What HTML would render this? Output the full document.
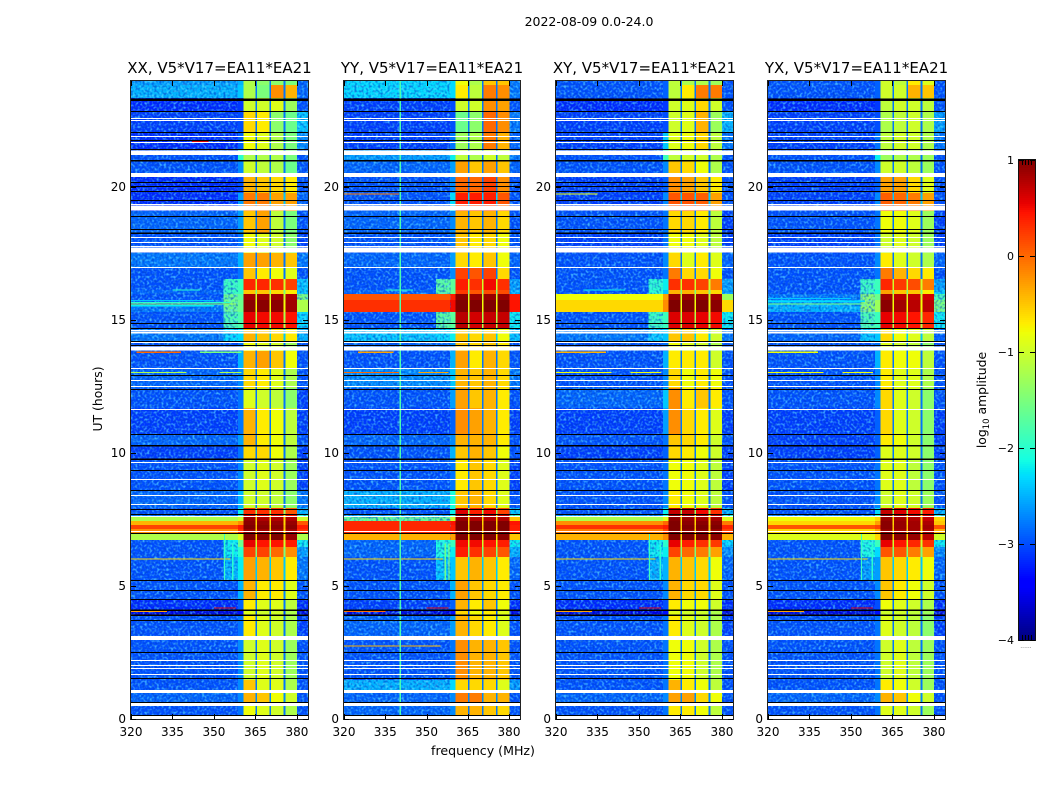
<!DOCTYPE html>
<html lang="en">
<head>
<meta charset="utf-8">
<title>2022-08-09 0.0-24.0</title>
<style>
html,body{margin:0;padding:0;background:#fff;width:1050px;height:800px;overflow:hidden}
svg{display:block}
text{font-family:"DejaVu Sans","Liberation Sans",sans-serif;fill:#000}
</style>
</head>
<body>
<svg id="fig" xmlns="http://www.w3.org/2000/svg" width="1050" height="800" viewBox="0 0 1050 800">
  <defs>
    <filter id="speckle" x="0" y="0" width="100%" height="100%">
      <feTurbulence type="fractalNoise" baseFrequency="0.42" numOctaves="1" seed="7"/>
      <feColorMatrix type="matrix" values="0 0 0 0 0.1  0 0 0 0 0.7  0 0 0 0 1  3.4 0 0 0 -1.55"/>
    </filter>
    <filter id="speckle-dark" x="0" y="0" width="100%" height="100%">
      <feTurbulence type="fractalNoise" baseFrequency="0.42" numOctaves="1" seed="23"/>
      <feColorMatrix type="matrix" values="0 0 0 0 0  0 0 0 0 0.05  0 0 0 0 0.6  3.4 0 0 0 -1.55"/>
    </filter>
  </defs>
  <text x="589" y="26" font-size="12.5" text-anchor="middle">2022-08-09 0.0-24.0</text>
  <text x="0" y="0" font-size="12.4" text-anchor="middle" transform="translate(102,399) rotate(-90)">UT (hours)</text>
  <text x="483" y="755" font-size="12.6" text-anchor="middle">frequency (MHz)</text>
  <text x="0" y="0" font-size="12.4" text-anchor="middle" transform="translate(986,400) rotate(-90)">log<tspan font-size="8.5" dy="3">10</tspan><tspan dy="-3"> amplitude</tspan></text>
  <g id="panels"></g>
  <g id="colorbar"></g>
</svg>
<script>
// Axis ticks
const freqTicks = [320, 335, 350, 365, 380];
const utTicks = [0, 5, 10, 15, 20];
const colorbarTicks = [1, 0, -1, -2, -3, -4];
const panelTitles = ['XX, V5*V17=EA11*EA21', 'YY, V5*V17=EA11*EA21', 'XY, V5*V17=EA11*EA21', 'YX, V5*V17=EA11*EA21'];

// Frequency column edges in MHz
const freqEdges = [320, 358.6, 360.6, 365.0, 365.6, 370.1, 370.7, 375.2, 375.8, 380.1, 384];
// UT row edges in hours (top to bottom)
const utEdges = [24, 23.85, 23.36, 22.87, 22.08, 21.41, 21.0, 20.39, 19.79, 19.36, 19.11, 18.28, 17.53, 17.01, 16.55, 16.14, 15.99, 15.76, 15.31, 14.67, 14.18, 13.85, 13.21, 12.45, 11.70, 10.72, 10.27, 9.74, 8.62, 7.94, 7.71, 7.60, 7.45, 7.30, 7.15, 7.00, 6.73, 6.47, 6.09, 5.23, 4.48, 4.10, 3.88, 2.97, 1.47, 0.98, 0.49, 0];

// log10 amplitude of the gaps between spectral windows, one per UT row
const gapLevels = [-2.8,-2.8,-2.8,-2.8,-2.8,-2.8,-2.8,-2.8,-2.4,-2.8,-2.8,-2.8,-2.8,-2.8,-1,-1.5,-1,-.8,-1.2,-2.4,-2.8,-2.8,-2.8,-2.8,-2.8,-2.8,-2.8,-2.8,-2.8,-1.4,-.8,-.6,-.6,-.5,-.6,-.6,-1,-1.5,-2.4,-2.7,-2.8,-3,-2.8,-2.8,-2.8,-2.7,-2.8];

// log10 amplitude per UT row: [below-band, shoulder, window1, window2, window3, window4, above-band]
const levelsXX = [
[-2.6,-2.5,-1.2,-1.4,-1.4,-1.5,-2.9],[-2.5,-2.4,-1.2,-1.5,-.2,-.4,-2.9],[-3.2,-3.1,-1,-1,-.9,-1.3,-3],[-3.1,-3,-.6,-.7,-1.4,-1.6,-2.4],
[-3.2,-2.9,-.8,-.9,-1.2,-1.5,-2.7],[-3,-2,-1.2,-1.2,-1.2,-1.5,-3],[-3,-2.7,-1,-1.1,-1.2,-1.6,-3],[-3.2,-3,-.4,-.5,-.6,-.7,-3],
[-3.2,-2.6,-.1,-.1,-.3,-.3,-2.9],[-3.2,-2.6,-.1,-.1,-.3,-.3,-2.9],[-2.9,-2.6,-.5,-.3,-1.1,-1.5,-3],[-3,-2.8,-.8,-.9,-1,-1.4,-3.1],
[-2.8,-2.5,-.3,-.3,-.4,-.5,-2.8],[-3,-2.8,-.5,-.7,-.8,-.9,-3],[-3,-1.9,.35,.35,.3,.2,-2.4],[-2.9,-1.9,-.5,-.5,-.6,-.7,-2.4],
[-3,-1.7,.85,.85,.85,.8,-1.5],[-2.8,-1.6,.95,.95,.95,.85,-1.2],[-3,-1.8,.55,.5,.5,.45,-2.3],[-2.8,-2.3,-.4,-.5,-.6,-.7,-2.5],
[-3,-2.8,-.8,-.9,-1,-1.3,-3],[-3,-2.5,-.4,-.3,-.5,-.8,-3],[-2.9,-2.7,-.6,-.7,-.9,-1.2,-3],[-3,-2.8,-.9,-1,-1.1,-1.4,-3.1],
[-3.1,-2.8,-.4,-.7,-.8,-1.1,-3.1],[-2.9,-2.6,-.4,-.7,-.8,-1.1,-3],[-3.1,-2.8,-.6,-.6,-.8,-1.2,-3.1],[-3,-2.7,-1,-.9,-1,-1.3,-3.1],
[-2.9,-2.5,-1,-1,-1.1,-1.4,-2.8],[-3,-2.2,.3,.3,.3,.1,-2.5],[-2.8,-2,.6,.5,.5,.45,-2],[-1.2,-1,.9,.8,.8,.8,-1],
[-.4,-.2,.95,.9,.9,.9,.1],[.2,.4,1,.95,.95,.95,.4],[-.2,.3,.9,.85,.85,.85,.3],[-1.2,-.9,1,.95,1,.9,-1.2],
[-3,-1.6,.55,.45,.45,.4,-2.2],[-3,-2,.2,.2,0,-.2,-2.6],[-3,-2.2,-.3,-.4,-.5,-.7,-2.8],[-3,-2.5,-.4,-.7,-.7,-.9,-3],
[-3.2,-2.9,-.7,-.9,-.9,-1.1,-3.2],[-3.6,-3.3,-.9,-1,-1,-1.2,-3.6],[-3,-2.8,-.7,-.9,-1,-1.2,-3.1],[-3,-2.7,-1,-.9,-1,-1.3,-3],
[-3,-2.7,-.5,-.9,-.9,-1.2,-3],[-2.9,-2.7,-.4,-.5,-.8,-1,-3],[-3,-2.8,-.8,-.9,-1,-1.2,-3]
];
const levelsYY = [
[-2.3,-2.3,-.8,-1.2,-.5,-.5,-2.8],[-2.3,-2.3,-.7,-1.1,-.1,-.2,-2.8],[-3.1,-3,-1,-1,-.2,-.3,-3],[-3.1,-3,-1.6,-1.4,0,-.2,-2.8],
[-3.1,-2.8,-1.3,-1.2,-.1,-.4,-2.9],[-2.6,-2.2,-1.1,-1.2,-1,-1.1,-2.8],[-2.9,-2.6,-.3,-.5,-.3,-.5,-2.9],[-3,-2.7,0,0,.2,-.2,-3],
[-3,-2.3,.4,.4,.4,.1,-3],[-3,-2.3,.2,.2,.2,0,-3],[-2.9,-2.7,-.4,-.5,-.4,-.6,-3],[-3,-2.8,-.5,-.7,-.6,-.8,-3],
[-2.9,-2.6,-.6,-.7,-.5,-.8,-2.9],[-3,-2.7,.2,.1,.2,-.6,-3],[-3,-1.7,.4,.3,.5,.3,-2.6],[-2.9,-1.6,.25,.1,.15,.15,-2.5],
[.1,.4,.95,.9,.9,.9,.4],[.3,.5,1,1,1,1,.45],[-3,-1.7,.75,.65,.7,.7,-2.2],[-2.4,-2.2,-.5,-.6,-.5,-.8,-2.4],
[-2.9,-2.7,-.5,-.6,-.5,-.7,-3],[-3,-2.5,-.3,-.7,-.4,-.6,-3],[-2.7,-2.4,-.4,-.5,-.4,-.6,-2.8],[-3,-2.6,-.3,-.5,-.4,-.7,-3],
[-3.1,-2.9,-.2,-.3,-.4,-.7,-3.1],[-2.9,-2.7,-.4,-.4,-.4,-.7,-3],[-3,-2.5,-.5,-.4,-.5,-.8,-3],[-3,-2.8,-.7,-.5,-.6,-.9,-3.1],
[-2.5,-2.1,-.5,-.4,-.6,-.9,-3],[-3,-2.2,.6,.4,.5,.2,-2.4],[-2.6,-2,.9,.8,.8,.7,-1.8],[-1.6,-1,.9,.8,.8,.8,-.5],
[.35,.45,1,1,1,1,.45],[.35,.4,1,1,1,1,.4],[.35,.4,1,1,1,1,.4],[-.4,-.3,1,1,1,.95,-.5],
[-2.9,-1.9,.5,.5,.45,.4,-2.2],[-2.9,-2.2,.4,.3,.2,.1,-2.5],[-3,-2.4,-.5,-.4,-.5,-.7,-2.9],[-3,-2.5,-.3,-.5,-.6,-.7,-3],
[-3.1,-2.9,-.4,-.7,-.5,-.8,-3.2],[-3.6,-3.3,-.6,-.8,-.7,-.9,-3.6],[-2.9,-2.6,-.4,-.6,-.7,-.9,-3],[-3,-2.8,-.2,-.4,-.4,-.5,-3],
[-2.5,-2.3,-.6,-.6,-.6,-.9,-2.6],[-2.9,-2.7,-.1,-.1,-.4,-.4,-3],[-2.9,-2.7,-.4,-.4,-.5,-.6,-3]
];
const levelsXY = [
[-3,-2.9,-1.1,-1.2,-1.2,-1.3,-3],[-3,-2.9,-1.1,-.7,-.1,-.1,-3],[-3.2,-3.1,-1,-.9,-.6,-1,-3],[-3.1,-3,-1,-.9,-.4,-1.3,-2.5],
[-3.1,-2.4,-.9,-.8,-.6,-1.1,-2.8],[-3,-1.9,-1.1,-1,-1,-1.2,-3],[-3,-2.7,-.5,-.6,-.8,-1.2,-3],[-3.1,-2.9,-.2,-.3,-.5,-.7,-3],
[-3.1,-2.7,.1,.1,.05,-.3,-3],[-3.1,-2.7,.1,.1,.05,-.3,-3],[-3,-2.8,-.6,-.6,-.7,-1.1,-3.1],[-3.1,-2.8,-.8,-.8,-.9,-1.1,-3.1],
[-3,-2.7,-.6,-.9,-.7,-.9,-2.9],[-3,-2.8,-.1,-.6,-.6,-.8,-3],[-3,-2.2,.3,.3,.2,-.1,-2.6],[-3,-2.4,-.4,-.4,-.5,-.6,-2.6],
[-.8,-.3,.9,.9,.9,.85,-1.3],[-.6,-.2,1,1,1,.95,-.6],[-3,-1.9,.6,.6,.55,.5,-2.2],[-2.8,-2.4,-.5,-.5,-.7,-1,-2.8],
[-3,-2.8,-.8,-.9,-1,-1.2,-3],[-3,-2.5,-.7,-.7,-.7,-1,-3],[-3,-2.7,-.6,-.8,-.7,-.8,-3],[-2.9,-2.4,-.2,-.7,-.5,-.7,-3],
[-3.1,-2.6,-.2,-.6,-.7,-.9,-3.1],[-3,-2.8,-.5,-.6,-.7,-1,-3],[-3.1,-2.9,-.6,-.7,-.8,-1,-3.1],[-3,-2.8,-.8,-.8,-.9,-1.1,-3.1],
[-3,-2.7,-.7,-.8,-.9,-1.1,-3],[-3,-2.2,.7,.7,.5,.3,-2.5],[-2.6,-2,.9,.8,.8,.7,-2],[-1.2,-.9,.95,.9,.85,.85,-.9],
[-.2,0,1,.95,.95,.95,-.1],[.3,.4,1,1,1,1,.35],[-.1,.2,1,.95,.95,.9,.2],[-.4,-.2,1,1,1,.95,-.4],
[-3,-2,.55,.4,.3,.25,-2.3],[-3,-2.2,.2,0,-.1,-.3,-2.7],[-3,-2.5,-.4,-.5,-.6,-.8,-2.9],[-3,-2.7,-.4,-.6,-.6,-.9,-3],
[-3.2,-3,-.7,-.8,-.8,-1,-3.2],[-3.6,-3.3,-.9,-1,-1,-1.2,-3.6],[-3,-2.8,-.7,-.9,-1,-1.2,-3.1],[-3,-2.8,-.8,-.8,-1,-1.2,-3],
[-3,-2.8,-.4,-.7,-.8,-1.1,-3],[-2.9,-2.7,-.3,-.3,-.6,-.8,-3],[-3,-2.8,-.7,-.7,-.8,-1.1,-3]
];
const levelsYX = [
[-3,-2.9,-1,-1.1,-.7,-.9,-3],[-3,-2.9,-1,-1,-.4,-.5,-3],[-3.2,-3.1,-1.1,-1,-1,-1.1,-3],[-3.1,-3,-1.2,-1.1,-1,-1.2,-2.6],
[-3.1,-2.8,-1.1,-1,-1,-1.2,-2.8],[-3,-2.2,-1.3,-1.2,-1.2,-1.3,-3],[-3,-2.7,-1,-1,-1.1,-1.3,-3],[-3.1,-2.9,-.3,-.3,-.6,-.9,-3],
[-3.1,-2.7,.05,0,-.1,-.3,-3],[-3.1,-2.7,.05,0,-.1,-.3,-3],[-3,-2.8,-.8,-.8,-.9,-1.3,-3.1],[-3.1,-2.8,-1,-.9,-1,-1.3,-3.1],
[-3,-2.7,-.7,-.9,-1,-1.2,-2.9],[-3,-2.8,-.1,-.4,-.6,-.7,-3],[-3,-1.9,.35,.25,.15,-.1,-2.6],[-3,-2.1,-.3,-.5,-.5,-.7,-2.4],
[-2.8,-1.6,.85,.75,.7,.65,-1.8],[-2.5,-1.3,.95,.85,.75,.75,-1.5],[-3,-1.9,.55,.5,.45,.35,-2.2],[-2.9,-2.4,-.6,-.8,-.9,-1.1,-2.9],
[-3,-2.8,-.9,-1,-1.1,-1.4,-3],[-3,-2.5,-.7,-.8,-.8,-1.1,-3],[-3,-2.7,-.7,-.9,-.9,-1.2,-3],[-3,-2.7,-.6,-.9,-1,-1.4,-3],
[-3.1,-2.9,-.6,-.9,-1,-1.4,-3.1],[-3.1,-2.9,-.7,-.8,-1,-1.4,-3.1],[-3.1,-2.9,-.9,-.9,-1,-1.4,-3.1],[-3,-2.8,-.9,-.9,-1.1,-1.4,-3],
[-3,-2.7,-1,-.9,-1,-1.3,-3],[-3,-2.3,.7,.6,.5,.4,-2.5],[-2.7,-2,.9,.8,.8,.6,-2],[-.8,-.6,.9,.85,.8,.7,-.6],
[-.6,-.3,.95,.9,.85,.8,-.5],[.1,.2,.95,.9,.85,.85,.1],[-.6,-.3,.9,.85,.85,.8,-.4],[-.9,-.6,1,.95,.9,.75,-1],
[-3,-1.9,.55,.45,.35,.3,-2.2],[-3,-2.3,.1,.1,-.1,-.3,-2.7],[-3,-2.6,-.5,-.6,-.7,-.8,-2.9],[-3,-2.7,-.5,-.7,-.8,-1,-3],
[-3.2,-3,-.8,-.9,-1,-1.2,-3.2],[-3.6,-3.3,-1,-1,-1.1,-1.3,-3.6],[-3,-2.8,-.9,-1,-1.1,-1.4,-3.1],[-3,-2.8,-1,-.9,-1.1,-1.3,-3],
[-3,-2.8,-.7,-.8,-1,-1.3,-3],[-2.9,-2.7,-.4,-.5,-.8,-1,-3],[-3,-2.8,-.9,-.9,-1,-1.3,-3]
];

// Out-of-band leakage next to the windows (353.5-358.6 MHz): [utTop, utBottom, level]
const leakageXX = [[16.55,15.99,-1.9],[15.99,15.31,-1.6],[15.31,14.67,-1.8],[14.67,14.18,-2.3],[6.73,6.09,-2.2],[6.09,5.23,-2.5]];
const leakageYY = [[16.55,15.99,-1.7],[15.31,14.67,-1.7],[14.67,14.18,-2.3],[6.73,6.09,-2.1],[6.09,5.23,-2.4]];
const leakageXY = [[16.55,15.99,-2],[15.31,14.67,-1.9],[14.67,14.18,-2.4],[6.73,6.09,-2.2],[6.09,5.23,-2.5]];
const leakageYX = [[16.55,15.99,-1.9],[15.99,15.31,-1.4],[15.31,14.67,-1.8],[14.67,14.18,-2.4],[6.73,6.09,-2.1],[6.09,5.23,-2.6]];

// Narrow-band interference: [ut, startMHz, endMHz, level]
const streaksXX = [[13.80,322,338,0],[13.80,345,360,-1.5],[13.04,320,340,-1.2],[13.04,352,360,-1.2],[15.61,320,358,-1.3],[15.67,320,356,-2],[15.55,320,350,-2.2],[15.75,320,350,-2.4],[6.02,320,356,-.6],[4.06,320,333,-.3],[4.18,350,358,.6],[21.73,342,348,.6],[16.14,335,345,-2]];
const streaksYY = [[13.80,325,338,-.3],[13.04,320,340,0],[13.04,347,358,-.3],[19.75,320,340,-.1],[6.02,320,356,-.6],[4.06,320,335,0],[4.18,350,358,.6],[2.75,320,355,-.4],[16.14,335,345,-2]];
const streaksXY = [[13.80,320,338,-.4],[13.04,320,340,-.8],[13.04,347,358,-.8],[19.75,320,335,-.8],[6.02,320,356,-.6],[4.06,320,333,-.3],[4.18,350,358,.6],[16.14,330,345,-2.2]];
const streaksYX = [[13.80,320,338,-.8],[13.04,320,340,-.8],[13.04,347,358,-.8],[15.61,320,356,-1.5],[15.72,320,355,-2.3],[15.82,320,350,-2.4],[6.02,320,356,-.6],[4.06,320,333,-.3],[4.18,350,358,.6]];

// Persistent single-channel interference: [MHz, utStart, utEnd, level]
const channelsXX = [[353.6,5.2,7.0,-1.9],[356.6,5.2,6.6,-2]];
const channelsYY = [[340.2,0,24,-1.8],[356.6,5.2,6.6,-1.6],[358,5.2,6.6,-1.4]];
const channelsXY = [[353.6,5.2,7.0,-1.9],[357.5,5.2,6.6,-2]];
const channelsYX = [[353.6,5.2,7.0,-1.9],[357.5,5.2,6.6,-2]];

// Flagged time ranges, white = no data, black = very low amplitude (UT hours)
const whiteLines = [22.60,22.55,21.92,21.69,19.36,18.13,17.95,17.81,17.02,14.65,14.18,13.22,12.75,12.52,11.68,9.66,9.04,8.42,8.10,7.65,7.09,2.23,2.03,1.90,1.70];
const whiteBands = [[21.38,21.22],[20.54,20.39],[19.31,19.12],[17.73,17.54],[14.58,14.50],[14.02,13.86],[3.12,2.97],[1.10,0.97],[0.63,0.48],[0.15,0]];
const blackLines = [22.86,22.07,21.79,20.21,20.06,19.88,19.54,18.91,18.45,14.91,14.71,14.23,14.08,12.93,12.43,10.73,9.36,8.60,7.91,7.73,7.01,5.24,4.85,4.51,3.71,2.53,0.64,0.16];
const blackBands = [[23.35,23.24],[21.45,21.41],[21.03,20.97],[18.30,18.25],[10.31,10.25],[9.80,9.74],[4.12,4.07],[3.93,3.88],[1.54,1.50]];

const allLevels = [levelsXX, levelsYY, levelsXY, levelsYX];
const allLeakage = [leakageXX, leakageYY, leakageXY, leakageYX];
const allStreaks = [streaksXX, streaksYY, streaksXY, streaksYX];
const allChannels = [channelsXX, channelsYY, channelsXY, channelsYX];

const NS = 'http://www.w3.org/2000/svg';
const plotTop = 81, plotBottom = 719;
const panelLefts = [131, 344, 556, 768];
const panelWidths = [177, 176, 177, 177];
const columnMap = [0, 1, 2, 'g', 3, 'g', 4, 'g', 5, 6];
const strongLevel = -1.5;

function yOf(ut) { return plotBottom - ut / 24 * (plotBottom - plotTop); }
function ramp(t, pts) {
  for (let i = 1; i < pts.length; i++) {
    if (t <= pts[i][0]) {
      const a = pts[i - 1], b = pts[i];
      return a[1] + (b[1] - a[1]) * (t - a[0]) / (b[0] - a[0]);
    }
  }
  return pts[pts.length - 1][1];
}
function jet(v) {
  const t = Math.max(0, Math.min(1, (v + 4) / 5));
  const r = ramp(t, [[0,0],[.35,0],[.66,1],[.89,1],[1,.5]]);
  const g = ramp(t, [[0,0],[.125,0],[.375,1],[.64,1],[.91,0],[1,0]]);
  const b = ramp(t, [[0,.5],[.11,1],[.34,1],[.65,0],[1,0]]);
  return 'rgb(' + Math.round(r * 255) + ',' + Math.round(g * 255) + ',' + Math.round(b * 255) + ')';
}
function box(parent, x, y, w, h, fill) {
  const el = document.createElementNS(NS, 'rect');
  el.setAttribute('x', x);
  el.setAttribute('y', y);
  el.setAttribute('width', w);
  el.setAttribute('height', h);
  el.setAttribute('fill', fill);
  el.setAttribute('shape-rendering', 'crispEdges');
  parent.appendChild(el);
  return el;
}
function label(parent, x, y, size, anchor, str) {
  const el = document.createElementNS(NS, 'text');
  el.setAttribute('x', x);
  el.setAttribute('y', y);
  el.setAttribute('font-size', size);
  el.setAttribute('text-anchor', anchor);
  el.textContent = str;
  parent.appendChild(el);
  return el;
}

const panelsRoot = document.getElementById('panels');
panelLefts.forEach(function (left, p) {
  const panelWidth = panelWidths[p];
  const xOf = function (f) { return left + (f - 320) / 64 * panelWidth; };
  const g = document.createElementNS(NS, 'g');
  
  
  panelsRoot.appendChild(g);

  // heatmap cells
  allLevels[p].forEach(function (row, r) {
    const y0 = yOf(utEdges[r]), y1 = yOf(utEdges[r + 1]);
    columnMap.forEach(function (idx, c) {
      const value = idx === 'g' ? gapLevels[r] : row[idx];
      const x0 = xOf(freqEdges[c]), x1 = xOf(freqEdges[c + 1]);
      const cell = box(g, x0, y0, x1 - x0, y1 - y0, jet(value));
      
      
    });
  });

  // leakage next to the windows
  allLeakage[p].forEach(function (s) {
    const x0 = xOf(353.5), x1 = xOf(freqEdges[1]);
    const el = box(g, x0, yOf(s[0]), x1 - x0, yOf(s[1]) - yOf(s[0]), jet(s[2]));
    
    
  });

  // noise texture over the out-of-band regions
  [[320, freqEdges[1]], [380.2, 384]].forEach(function (range) {
    const xa = xOf(range[0]), xb = xOf(range[1]);
    const noiseA = box(g, xa, plotTop, xb - xa, plotBottom - plotTop, '#000');
    noiseA.setAttribute('filter', 'url(#speckle)');
    noiseA.setAttribute('opacity', '0.7');
    
    
    const noiseB = box(g, xa, plotTop, xb - xa, plotBottom - plotTop, '#000');
    noiseB.setAttribute('filter', 'url(#speckle-dark)');
    noiseB.setAttribute('opacity', '0.6');
    
    
  });

  // strong out-of-band rows are smooth: repaint them over the noise
  allLevels[p].forEach(function (row, r) {
    const y0 = yOf(utEdges[r]), y1 = yOf(utEdges[r + 1]);
    if (row[0] > strongLevel) {
      const hot = box(g, xOf(320), y0, xOf(freqEdges[1]) - xOf(320), y1 - y0, jet(row[0]));
      
      
    }
    if (row[6] > strongLevel) {
      const hotR = box(g, xOf(380.1), y0, xOf(384) - xOf(380.1), y1 - y0, jet(row[6]));
      
      
    }
  });

  // streaks
  allStreaks[p].forEach(function (s) {
    const x0 = xOf(s[1]), x1 = xOf(s[2]);
    const el = box(g, x0, yOf(s[0]) - 0.5, x1 - x0, 1.2, jet(s[3]));
    
    
  });

  // single-channel interference
  allChannels[p].forEach(function (s) {
    const y0 = yOf(s[2]), y1 = yOf(s[1]);
    const el = box(g, xOf(s[0]), y0, 1.2, y1 - y0, jet(s[3]));
    
    
  });

  // flags
  whiteBands.forEach(function (b) {
    const el = box(g, left, yOf(b[0]), panelWidth, yOf(b[1]) - yOf(b[0]), '#fff');
    
    
  });
  whiteLines.forEach(function (u) {
    const el = box(g, left, Math.round(yOf(u)), panelWidth, 1, '#fff');
    
    
  });
  blackBands.forEach(function (b) {
    const el = box(g, left, yOf(b[0]), panelWidth, Math.max(1, yOf(b[1]) - yOf(b[0])), '#000');
    
    
  });
  blackLines.forEach(function (u) {
    const el = box(g, left, Math.round(yOf(u)), panelWidth, 1, '#000');
    
    
  });

  // frame
  const frame = document.createElementNS(NS, 'rect');
  frame.setAttribute('x', left - 0.5);
  frame.setAttribute('y', plotTop - 0.5);
  frame.setAttribute('width', panelWidth + 1);
  frame.setAttribute('height', plotBottom - plotTop + 1);
  frame.setAttribute('fill', 'none');
  frame.setAttribute('stroke', '#222');
  frame.setAttribute('stroke-width', '1');
  
  
  g.appendChild(frame);

  // x ticks
  freqTicks.forEach(function (f) {
    const x = Math.round(xOf(f));
    const t1 = box(g, x, plotBottom - 5, 1, 5, '#000');
    
    
    const t2 = box(g, x, plotTop, 1, 5, '#000');
    
    
    const l = label(g, xOf(f), 736, 12, 'middle', String(f));
    
    
  });

  // y ticks
  utTicks.forEach(function (u) {
    const y = Math.round(yOf(u));
    const t1 = box(g, left, y, 5, 1, '#000');
    
    
    const t2 = box(g, left + panelWidth - 5, y, 5, 1, '#000');
    
    
    const l = label(g, left - 5, yOf(u) + 3.8, 12, 'end', String(u));
    
    
  });

  const title = label(g, left + panelWidth / 2, 73, 15, 'middle', panelTitles[p]);
  
  
});

// Colorbar
const cb = document.getElementById('colorbar');
const cbLeft = 1019, cbWidth = 16, cbTop = 160, cbBottom = 640;
const cbMin = -4, cbMax = 1;
const cbMinorOffsets = [3, 6, 9, 12];
function cbY(v) { return cbBottom - (v - cbMin) / (cbMax - cbMin) * (cbBottom - cbTop); }
for (let i = 0; i < 240; i++) {
  const v = cbMin + (i + 0.5) * (cbMax - cbMin) / 240;
  const el = box(cb, cbLeft, cbY(v) - 1, cbWidth, 2.2, jet(v));
  
  
}
const cbFrame = document.createElementNS(NS, 'rect');
cbFrame.setAttribute('x', cbLeft - 0.5);
cbFrame.setAttribute('y', cbTop - 0.5);
cbFrame.setAttribute('width', cbWidth + 1);
cbFrame.setAttribute('height', cbBottom - cbTop + 1);
cbFrame.setAttribute('fill', 'none');
cbFrame.setAttribute('stroke', '#111');


cb.appendChild(cbFrame);
colorbarTicks.forEach(function (v) {
  const y = Math.round(cbY(v));
  const t1 = box(cb, cbLeft, y, 5, 1, '#000');
  
  
  const t2 = box(cb, cbLeft + cbWidth - 5, y, 5, 1, '#000');
  
  
  const l = label(cb, cbLeft - 5, cbY(v) + 4, 11, 'end', v < 0 ? '\u2212' + Math.abs(v) : String(v));
  
  
});
cbMinorOffsets.forEach(function (o) {
  const t1 = box(cb, cbLeft + o, cbTop, 1, 5, '#000');
  
  
  const t2 = box(cb, cbLeft + o, cbBottom - 5, 1, 5, '#000');
  
  
});
const cbDots = label(cb, 1026, 648, 6, 'middle', '......');
cbDots.setAttribute('style', 'fill:#666');


</script>
</body>
</html>
